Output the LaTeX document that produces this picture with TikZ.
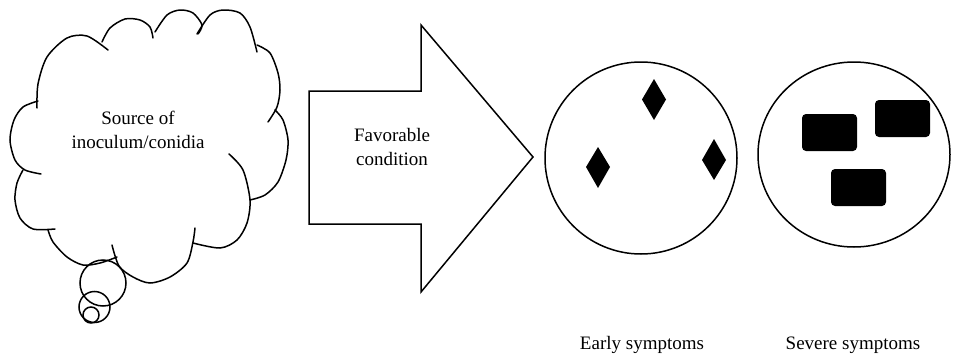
\documentclass[tikz,border=0pt]{standalone}
\usepackage{fontspec}
\setmainfont{Liberation Serif}
\begin{document}
\begin{tikzpicture}[x=1pt,y=-1pt,
  outl/.style={draw=black,line width=1.5pt},
  lobe/.style={draw=black,line width=1.5pt,line cap=round},
  lbl/.style={font=\fontsize{19}{24}\selectfont,inner sep=0pt,align=center},
  spot/.style={fill=black,draw=none},
  blob/.style={fill=black,draw=none,rounded corners=4pt}]
\useasboundingbox (0,0) rectangle (954,359);
% cloud lobes
\draw[lobe] plot[smooth] coordinates {(38,101) (23,107) (14,120) (10,140) (15,160) (25,170) (41,174)};
\draw[lobe] plot[smooth] coordinates {(37,108) (38,84) (47,57) (67,38) (87,36) (108,50)};
\draw[lobe] plot[smooth] coordinates {(102,42) (110,28) (125,19) (140,20) (150,27) (153,38)};
\draw[lobe] plot[smooth] coordinates {(155,32) (167,15) (180,10) (193,13) (202,25) (198,34)};
\draw[lobe] plot[smooth] coordinates {(197,34) (210,15) (223,10) (240,13) (250,27) (257,52)};
\draw[lobe] plot[smooth] coordinates {(257,45) (270,53) (278,73) (280,90) (277,107) (268,122)};
\draw[lobe] plot[smooth] coordinates {(275,110) (283,120) (288,140) (286,160) (278,182) (265,195) (250,200)};
\draw[lobe] plot[smooth] coordinates {(229,154) (243,170) (250,200) (247,223) (237,240) (220,248) (193,243)};
\draw[lobe] plot[smooth] coordinates {(195,228) (193,242) (187,263) (170,277) (150,283) (133,277) (119,266) (112,245)};
\draw[lobe] plot[smooth] coordinates {(117,257) (100,263) (83,265) (67,257) (53,242) (48,230)};
\draw[lobe] plot[smooth] coordinates {(23,170) (17,183) (15,200) (20,218) (33,229) (55,229)};
% thought bubbles
\draw[outl] (103,283) circle[radius=23];
\draw[outl] (94.5,307) circle[radius=15.5];
\draw[outl] (91,315) circle[radius=8];
\node[lbl] (src) at (138,129.6) {Source of\\inoculum/conidia};
% block arrow
\draw[outl,line join=miter] (309,91) -- (421,91) -- (421,25) -- (533,157) -- (421,292) -- (421,224) -- (309,224) -- cycle;
\node[lbl] (fav) at (392,146.8) {Favorable\\condition};
% early symptoms
\draw[outl] (641,158) ellipse[x radius=96,y radius=96];
\fill[spot] (654,79) -- (666,99.5) -- (654,120) -- (642,99.5) -- cycle;
\fill[spot] (598,147) -- (610,167) -- (598,188) -- (586,167) -- cycle;
\fill[spot] (714,139) -- (726,160) -- (714,180) -- (702,160) -- cycle;
% severe symptoms
\draw[outl] (854,154.5) ellipse[x radius=96,y radius=92.5];
\fill[blob] (802,114) rectangle (857,151);
\fill[blob] (875,100) rectangle (930,137);
\fill[blob] (831,169) rectangle (886,206);
\node[lbl,anchor=base] (early) at (642,349) {Early symptoms};
\node[lbl,anchor=base] (severe) at (853,349) {Severe symptoms};
\end{tikzpicture}
\end{document}
